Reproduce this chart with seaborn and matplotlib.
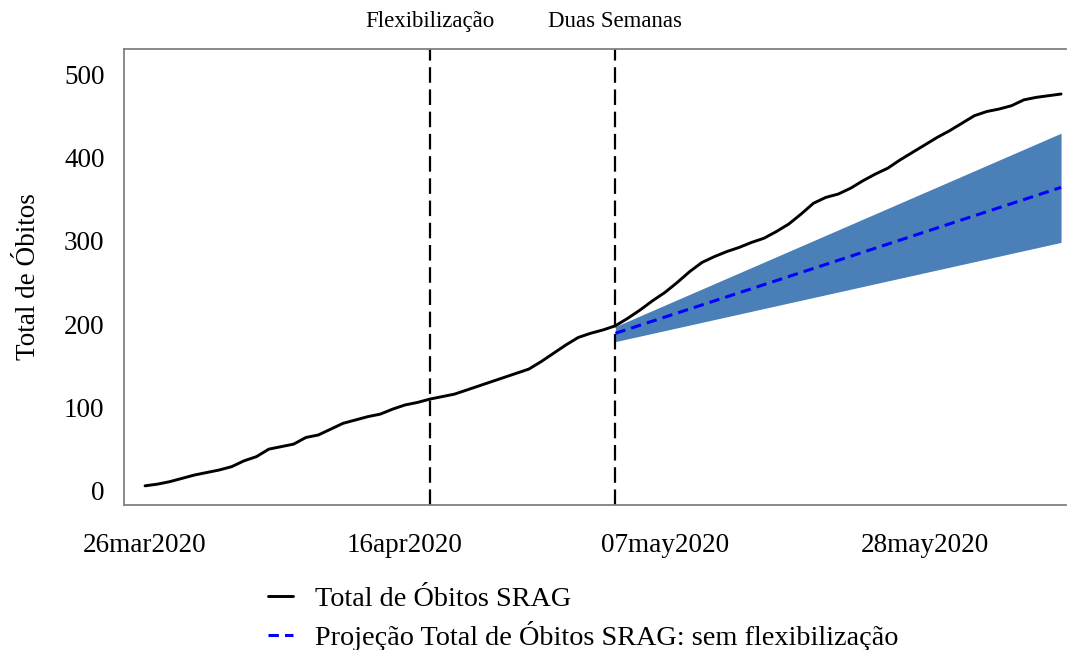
import matplotlib
matplotlib.use("Agg")
import matplotlib.pyplot as plt
import matplotlib.dates as mdates
import matplotlib.transforms as mtransforms
from matplotlib.ticker import FuncFormatter
import seaborn as sns
import pandas as pd

# ---- data ----
obs_start = "2020-03-26"
obs_values = [6, 8, 11, 15, 19, 22, 25, 29, 36, 41,
              50, 53, 56, 64, 67, 74, 81, 85, 89, 92,
              98, 103, 106, 110, 113, 116, 121, 126, 131, 136,
              141, 146, 155, 165, 175, 184, 189, 193, 198, 207,
              217, 228, 238, 250, 263, 274, 281, 287, 292, 298,
              303, 311, 320, 332, 345, 352, 356, 363, 372, 380,
              387, 397, 406, 415, 424, 432, 441, 450, 455, 458,
              462, 469, 472, 474, 476]

proj_dates = ["2020-05-03", "2020-06-08"]
proj_center = [189, 364]
proj_lower = [179, 298]
proj_upper = [197, 429]

event_dates = ["2020-04-18", "2020-05-03"]
event_labels = ["Flexibilização", "Duas Semanas"]

tick_dates = ["2020-03-26", "2020-04-16", "2020-05-07", "2020-05-28"]
y_ticks = [0, 100, 200, 300, 400, 500]

legend_labels = ["Total de Óbitos SRAG", "Projeção Total de Óbitos SRAG: sem flexibilização"]

# ---- frames ----
df_obs = pd.DataFrame({"date": pd.date_range(obs_start, periods=len(obs_values), freq="D"),
                       "value": obs_values})
df_proj = pd.DataFrame({"date": pd.to_datetime(proj_dates), "center": proj_center,
                        "lower": proj_lower, "upper": proj_upper})

sns.set_theme(style="white")
plt.rcParams["font.family"] = ["Liberation Serif", "DejaVu Serif"]
plt.rcParams["text.color"] = "black"

fig = plt.figure(figsize=(10.67, 6.5), dpi=100)
ax = fig.add_axes([124 / 1067, (650 - 505) / 650, (1066 - 124) / 1067, (505 - 49) / 650])

ax.fill_between(df_proj["date"], df_proj["lower"], df_proj["upper"],
                color="#4a7fb8", linewidth=0, zorder=1)
sns.lineplot(data=df_obs, x="date", y="value", ax=ax, color="black",
             linewidth=2.1, label=legend_labels[0], zorder=3)
sns.lineplot(data=df_proj, x="date", y="center", ax=ax, color="#0000ff",
             linewidth=2.2, linestyle=(0, (3.4, 2.0)), label=legend_labels[1], zorder=4)

trans = mtransforms.blended_transform_factory(ax.transData, ax.transAxes)
for d, lab in zip(event_dates, event_labels):
    dd = pd.Timestamp(d)
    ax.axvline(dd, color="black", linewidth=1.6, linestyle=(0, (7, 3)), zorder=2)
    ax.text(dd, 1.06, lab, transform=trans, ha="center", va="center",
            fontsize=16.5, color="black")

ax.set_xlim(pd.Timestamp(obs_start) - pd.Timedelta(days=1.7),
            pd.Timestamp(obs_start) + pd.Timedelta(days=74.4))
ax.set_ylim(-17, 530)
ax.set_xticks(pd.to_datetime(tick_dates))
ax.xaxis.set_major_formatter(FuncFormatter(
    lambda v, p: mdates.num2date(v).strftime("%d%b%Y").lower()))
ax.set_yticks(y_ticks)
ax.tick_params(axis="both", length=0, labelsize=19.5, colors="black")
ax.tick_params(axis="y", pad=14)
ax.tick_params(axis="x", pad=20)
ax.set_xlabel("")
ax.set_ylabel("Total de Óbitos", fontsize=19.5, color="black")
ax.yaxis.set_label_coords(-0.088, 0.5)

for s in ["left", "top", "bottom"]:
    ax.spines[s].set_color("#808080")
    ax.spines[s].set_linewidth(1.3)
ax.spines["right"].set_visible(False)

ax.get_legend().remove()
handles, labels = ax.get_legend_handles_labels()
fig.legend(handles, labels, loc="upper left", bbox_to_anchor=(268 / 1067, 1 - 586 / 650),
           frameon=False, fontsize=20.3, handlelength=0.9, handletextpad=0.75,
           labelspacing=0.33, borderpad=0, borderaxespad=0, labelcolor="black")

fig.savefig("out.png", dpi=100)
